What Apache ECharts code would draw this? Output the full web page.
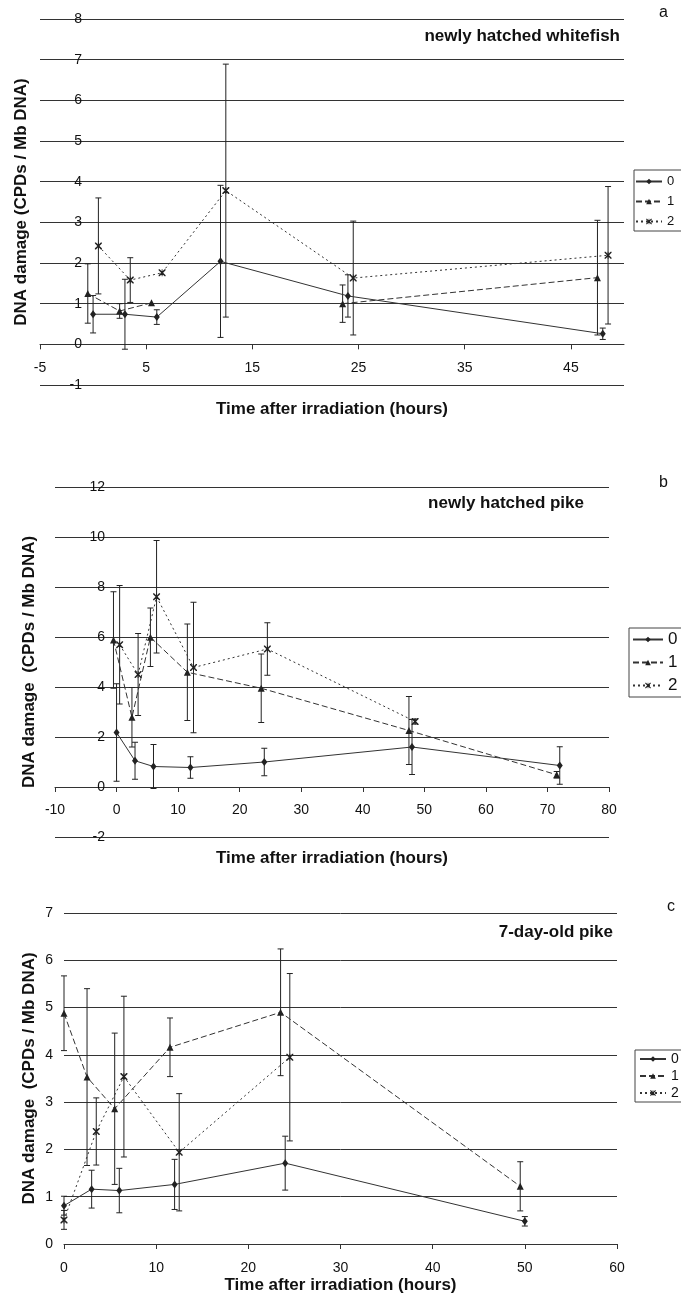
<!DOCTYPE html>
<html>
<head>
<meta charset="utf-8">
<script src="https://cdn.jsdelivr.net/npm/echarts@6/dist/echarts.min.js"></script>
<style>
html, body { margin: 0; padding: 0; background: #fff; }
#chart { width: 681px; height: 1306px; }
</style>
</head>
<body>
<div id="chart"></div>
<script>
// rows are [time after irradiation (h), mean CPDs / Mb DNA, sd]
// null mean = missing point (line breaks there)
const whitefish0 = [[0, 0.74, 0.46], [3, 0.74, 0.86], [6, 0.67, 0.18], [12, 2.04, 1.87], [24, 1.19, 0.52], [48, 0.26, 0.14]]
const whitefish1 = [[-0.5, 1.25, 0.73], [2.5, 0.82, 0.18], [5.5, 1.02, 0], [12, null, 0], [23.5, 1.0, 0.46], [47.5, 1.64, 1.41]]
const whitefish2 = [[0.5, 2.42, 1.18], [3.5, 1.58, 0.55], [6.5, 1.76, 0], [12.5, 3.78, 3.11], [24.5, 1.63, 1.4], [48.5, 2.19, 1.69]]

const pike0 = [[0, 2.18, 1.95], [3, 1.05, 0.74], [6, 0.82, 0.88], [12, 0.78, 0.43], [24, 1.0, 0.55], [48, 1.6, 1.1], [72, 0.86, 0.75]]
const pike1 = [[-0.5, 5.88, 1.93], [2.5, 2.79, 1.19], [5.5, 5.99, 1.17], [11.5, 4.59, 1.93], [23.5, 3.95, 1.37], [47.5, 2.26, 1.36], [71.5, 0.49, 0.13]]
const pike2 = [[0.5, 5.69, 2.37], [3.5, 4.5, 1.64], [6.5, 7.61, 2.25], [12.5, 4.78, 2.61], [24.5, 5.52, 1.05], [48.5, 2.62, 0.1]]

const oldPike0 = [[0, 0.81, 0.2], [3, 1.16, 0.4], [6, 1.13, 0.47], [12, 1.26, 0.53], [24, 1.71, 0.57], [50, 0.48, 0.1]]
const oldPike1 = [[0, 4.88, 0.79], [2.5, 3.53, 1.87], [5.5, 2.86, 1.6], [11.5, 4.16, 0.62], [23.5, 4.9, 1.34], [49.5, 1.22, 0.52]]
const oldPike2 = [[0, 0.51, 0.2], [3.5, 2.38, 0.71], [6.5, 3.54, 1.7], [12.5, 1.94, 1.24], [24.5, 3.95, 1.77]]

const doses = ['0', '1', '2']
const panelTitles = ['newly hatched whitefish', 'newly hatched pike', '7-day-old pike']
const panelLetters = ['a', 'b', 'c']
const xName = 'Time after irradiation (hours)'
const yNames = ['DNA damage (CPDs / Mb DNA)', 'DNA damage  (CPDs / Mb DNA)', 'DNA damage  (CPDs / Mb DNA)']
const whitefishTicks = [-5, 5, 15, 25, 35, 45]

const ink = '#222'
const font = 'Liberation Sans'
const star = 'path://M0,0 L1.5,0 L5,3.5 L8.5,0 L10,0 L10,1.5 L6.5,5 L10,8.5 L10,10 L8.5,10 L5,6.5 L1.5,10 L0,10 L0,8.5 L3.5,5 L0,1.5 Z M4.4,0 L5.6,0 L5.6,10 L4.4,10 Z'
const marks = [
    { symbol: 'diamond', size: [6, 8], dash: 'solid' },
    { symbol: 'triangle', size: 7, dash: [6, 3] },
    { symbol: star, size: 7, dash: [2, 3] }
]

function lineSeries(rows, k, idx){
    return {
        name: doses[k],
        type: 'line',
        xAxisIndex: idx,
        yAxisIndex: idx,
        data: rows.map(r => [r[0], r[1] == null ? '-' : r[1]]),
        symbol: marks[k].symbol,
        symbolSize: marks[k].size,
        connectNulls: false,
        lineStyle: { color: '#333', width: 1, type: marks[k].dash },
        itemStyle: { color: ink },
        z: 3
    }
}

function errorSeries(rows, k, idx){
    return {
        name: 'sd-' + idx + '-' + k,
        type: 'custom',
        xAxisIndex: idx,
        yAxisIndex: idx,
        silent: true,
        encode: { x: 0, y: [1, 2] },
        data: rows.filter(r => r[1] != null && r[2] > 0).map(r => [r[0], r[1] - r[2], r[1] + r[2]]),
        renderItem: function (params, api) {
            let lo = api.coord([api.value(0), api.value(1)])
            let hi = api.coord([api.value(0), api.value(2)])
            let st = { stroke: ink, lineWidth: 1 }
            return {
                type: 'group',
                children: [
                    { type: 'line', shape: { x1: lo[0], y1: lo[1], x2: hi[0], y2: hi[1] }, style: st },
                    { type: 'line', shape: { x1: lo[0] - 3, y1: lo[1], x2: lo[0] + 3, y2: lo[1] }, style: st },
                    { type: 'line', shape: { x1: hi[0] - 3, y1: hi[1], x2: hi[0] + 3, y2: hi[1] }, style: st }
                ]
            }
        },
        z: 2
    }
}

// labels and names sit at the grid edge, so margins pull them back to the zero lines
function xAxis(idx, min, max, interval, ticks, labelMargin, gap){
    let ax = {
        gridIndex: idx,
        type: 'value',
        min: min,
        max: max,
        name: xName,
        nameLocation: 'middle',
        nameGap: gap,
        nameMoveOverlap: false,
        nameTextStyle: { fontSize: 17, fontWeight: 'bold', color: '#111' },
        axisLine: { onZero: true, lineStyle: { color: '#333', width: 1 } },
        axisTick: { show: true, length: 5, lineStyle: { color: '#333' } },
        axisLabel: { fontSize: 14, color: '#111', margin: labelMargin },
        splitLine: { show: false }
    }
    if (interval) ax.interval = interval
    if (ticks) {
        ax.axisTick.customValues = ticks
        ax.axisLabel.customValues = ticks
    }
    return ax
}

function yAxis(idx, min, max, interval, labelMargin, gap){
    return {
        gridIndex: idx,
        type: 'value',
        min: min,
        max: max,
        interval: interval,
        name: yNames[idx],
        nameLocation: 'middle',
        nameRotate: 90,
        nameGap: gap,
        nameMoveOverlap: false,
        nameTextStyle: { fontSize: 17, fontWeight: 'bold', color: '#111' },
        axisLine: { show: false, onZero: false },
        axisTick: { show: false },
        axisLabel: { fontSize: 14, color: '#111', margin: labelMargin },
        splitLine: { show: true, lineStyle: { color: '#333', width: 1 } }
    }
}

function legend(idx, left, top, size, gap, itemWidth, pad){
    return {
        data: doses,
        orient: 'vertical',
        left: left,
        top: top,
        itemWidth: itemWidth,
        itemHeight: 7,
        itemGap: gap,
        padding: pad,
        borderColor: '#444',
        borderWidth: 1,
        selectedMode: false,
        textStyle: { fontSize: size, color: '#111', fontFamily: font }
    }
}

let myChart = echarts.init(document.getElementById('chart'))

let option = {
    animation: false,
    backgroundColor: '#fff',
    textStyle: { fontFamily: font },
    title: [
        { text: panelTitles[0], right: 61, top: 28, padding: 0, textStyle: { fontSize: 17, fontWeight: 'bold', color: '#111' } },
        { text: panelTitles[1], right: 97, top: 495, padding: 0, textStyle: { fontSize: 17, fontWeight: 'bold', color: '#111' } },
        { text: panelTitles[2], right: 68, top: 924, padding: 0, textStyle: { fontSize: 17, fontWeight: 'bold', color: '#111' } },
        { text: panelLetters[0], left: 659, top: 5, padding: 0, textStyle: { fontSize: 16, fontWeight: 'normal', color: '#111' } },
        { text: panelLetters[1], left: 659, top: 475, padding: 0, textStyle: { fontSize: 16, fontWeight: 'normal', color: '#111' } },
        { text: panelLetters[2], left: 667, top: 899, padding: 0, textStyle: { fontSize: 16, fontWeight: 'normal', color: '#111' } }
    ],
    legend: [
        legend(0, 634, 170, 13, 7, 26, [5, 20, 3, 1]),
        legend(1, 629, 628, 17, 6, 30, [3, 20, 3, 3]),
        legend(2, 635, 1050, 14, 3, 26, [2, 20, 2, 4])
    ],
    grid: [
        { left: 40, top: 19, width: 584, height: 366, outerBoundsMode: 'none' },
        { left: 55, top: 487, width: 554, height: 350, outerBoundsMode: 'none' },
        { left: 64, top: 913, width: 553, height: 331, outerBoundsMode: 'none' }
    ],
    xAxis: [
        xAxis(0, -5, 50, null, whitefishTicks, -23.5, 16),
        xAxis(1, -10, 80, 10, null, -34, 13),
        xAxis(2, 0, 60, 10, null, 17, 33)
    ],
    yAxis: [
        yAxis(0, -1, 8, 1, -42, 10),
        yAxis(1, -2, 12, 2, -50, 17),
        yAxis(2, 0, 7, 1, 11, 26)
    ],
    series: []
}

let panels = [[whitefish0, whitefish1, whitefish2], [pike0, pike1, pike2], [oldPike0, oldPike1, oldPike2]]
panels.forEach((rowsList, idx) => {
    rowsList.forEach((rows, k) => {
        option.series.push(errorSeries(rows, k, idx))
        option.series.push(lineSeries(rows, k, idx))
    })
})

myChart.setOption(option)
</script>
</body>
</html>
